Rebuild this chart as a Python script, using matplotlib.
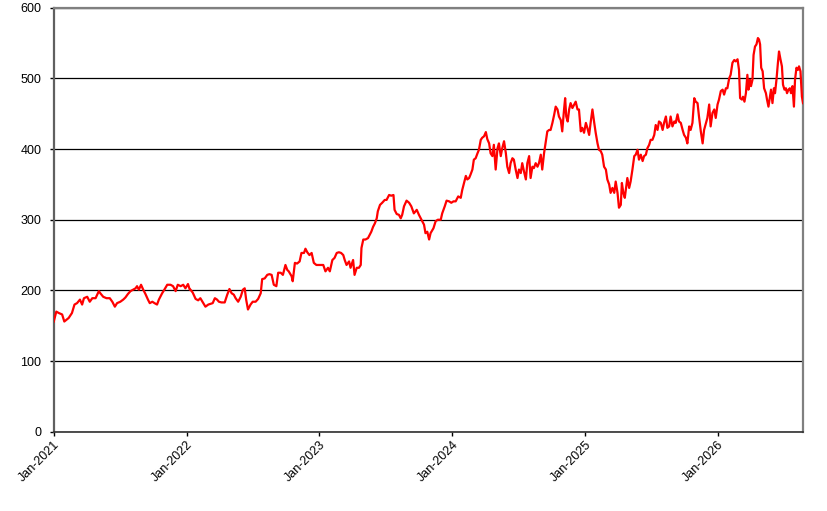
import pandas as pd
import matplotlib
matplotlib.use("Agg")
import matplotlib.pyplot as plt
import matplotlib.dates as mdates

# daily-ish closing values, offsets in days from start_date
start_date = "2021-01-01"

day_offsets = [
    0, 7, 14, 23, 29, 41, 50, 57, 64, 72, 78, 83, 92, 99, 106, 115, 124, 128, 136, 145,
    154, 161, 168, 174, 183, 191, 197, 204, 211, 218, 225, 229, 234, 240, 246, 252, 259, 264, 271, 277,
    284, 289, 298, 304, 312, 321, 328, 335, 341, 349, 356, 362, 369, 374,
    376, 382, 390, 397, 403, 410, 417, 425, 431, 437, 443, 449, 454, 461, 470, 477, 483, 489, 495, 500,
    507, 514, 520, 525, 529, 534, 541, 547, 555, 562, 569, 573, 580, 587, 593, 599, 605, 612, 617, 624,
    630, 637, 642, 646, 654, 657, 663, 669, 676, 681, 688, 692, 697, 703, 709, 715, 722, 729,
    741, 747, 754, 759, 766, 772, 778, 784, 790, 796, 800, 805, 812, 816, 823, 827, 833, 839, 844, 846,
    851, 857, 864, 869, 873, 878, 883, 888, 891, 897, 903, 910, 915, 922, 928, 934, 937, 943, 949, 954,
    958, 963, 970, 977, 983, 990, 998, 1004, 1011, 1018, 1022, 1027, 1032, 1036, 1044, 1050, 1056, 1064,
    1068, 1075, 1080, 1087, 1093, 1099,
    1105, 1112, 1119, 1123, 1128, 1133, 1137, 1142, 1146, 1151, 1155, 1160, 1165, 1169, 1174, 1178, 1183,
    1188, 1192, 1197, 1201, 1206, 1210, 1215, 1220, 1224, 1229, 1233, 1238, 1243, 1247, 1252, 1256, 1261,
    1265, 1270, 1275, 1279, 1284, 1288, 1293, 1298, 1302, 1307, 1311, 1316, 1320, 1325, 1330, 1334, 1339,
    1343, 1348, 1353, 1357, 1362, 1366, 1371, 1376, 1380, 1385, 1389, 1394, 1398, 1403, 1406, 1409, 1413,
    1417, 1421, 1426, 1431, 1435, 1440, 1444, 1449, 1453, 1458, 1463, 1467, 1472, 1476,
    1481, 1486, 1490, 1495, 1499, 1504, 1508, 1513, 1518, 1522, 1527, 1531, 1536, 1541, 1545, 1550, 1554,
    1559, 1562, 1566, 1570, 1574, 1577, 1582, 1586, 1591, 1596, 1600, 1605, 1609, 1614, 1619, 1623, 1628,
    1632, 1637, 1641, 1646, 1651, 1655, 1660, 1664, 1669, 1674, 1678, 1683, 1687, 1692, 1696, 1701, 1706,
    1710, 1715, 1719, 1724, 1729, 1733, 1738, 1742, 1747, 1751, 1756, 1761, 1765, 1770, 1774, 1779, 1784,
    1788,
    1797, 1802, 1806, 1811, 1816, 1820, 1825, 1829, 1834, 1839, 1843, 1848, 1852, 1857, 1861, 1866, 1871,
    1875, 1880, 1884, 1887, 1892, 1895, 1899, 1903, 1907, 1910, 1914, 1917, 1921, 1924, 1928, 1932, 1936,
    1939, 1942, 1945, 1949, 1953, 1958, 1961, 1965, 1969, 1972, 1976, 1980, 1983, 1987, 1991, 1994, 1998,
    2002, 2005, 2009, 2013, 2016, 2020, 2024, 2027, 2031, 2035, 2038, 2042, 2046, 2049, 2053, 2057, 2060,
]

prices = [
    156, 170, 168, 166, 156, 161, 168, 180, 182, 187, 180, 189, 191, 184, 189, 189, 199, 196, 191, 189,
    189, 184, 177, 182, 184, 187, 190, 195, 199, 201, 203, 206, 201, 208, 201, 195, 187, 182, 184, 182,
    180, 187, 196, 201, 208, 208, 206, 199, 208, 206, 208, 203, 209, 201,
    201, 197, 188, 186, 189, 183, 177, 180, 181, 182, 189, 187, 184, 183, 183, 194, 202, 196, 194, 189,
    184, 191, 201, 203, 187, 173, 180, 184, 184, 188, 196, 216, 217, 222, 223, 222, 208, 206, 225, 225,
    222, 236, 229, 227, 220, 213, 239, 238, 241, 253, 253, 259, 254, 250, 253, 239, 236, 236,
    236, 227, 232, 227, 243, 246, 253, 254, 253, 250, 243, 236, 241, 232, 243, 222, 232, 232, 236, 260,
    272, 272, 274, 279, 283, 290, 295, 302, 312, 321, 324, 328, 328, 335, 334, 335, 314, 308, 307, 302,
    307, 319, 327, 324, 319, 309, 314, 307, 300, 293, 281, 283, 272, 281, 288, 298, 300, 300,
    309, 319, 327, 326, 324, 326,
    326, 333, 331, 342, 352, 362, 357, 359, 364, 371, 385, 387, 394, 399, 413, 416, 418,
    424, 414, 408, 394, 390, 406, 371, 401, 408, 390, 401, 411, 394, 375, 366, 380, 387,
    385, 371, 359, 371, 366, 380, 368, 357, 380, 390, 359, 375, 373, 380, 375, 380, 392,
    371, 394, 411, 425, 427, 427, 437, 449, 460, 456, 446, 441, 425, 456, 472, 446, 439,
    456, 465, 458, 463, 467, 456, 456, 425, 430, 423, 437, 430, 420, 437,
    456, 437, 423, 408, 399, 397, 392, 375, 371, 357, 350, 338, 345, 338, 354, 338, 317,
    321, 352, 338, 331, 347, 359, 345, 354, 371, 390, 392, 399, 385, 392, 383, 390, 392,
    401, 406, 413, 413, 420, 434, 427, 439, 437, 427, 437, 446, 430, 432, 446, 432, 439,
    437, 449, 439, 437, 427, 420, 416, 408, 432, 427, 437, 472, 467, 465, 446, 425, 408,
    427,
    444, 463, 432, 451, 456, 444, 463, 470, 482, 484, 477, 486, 486, 500, 505, 522, 526,
    524, 527, 512, 472, 470, 474, 467, 479, 505, 484, 498, 489, 498, 533, 545, 548, 557,
    555, 548, 515, 510, 486, 479, 470, 460, 474, 484, 465, 486, 479, 498, 522, 538, 527,
    517, 491, 484, 486, 479, 484, 486, 479, 489, 460, 498, 515, 512, 517, 510, 474, 465,
]

y_ticks = [0, 100, 200, 300, 400, 500, 600]

dates = pd.Timestamp(start_date) + pd.to_timedelta(day_offsets, unit="D")

plt.rcParams["font.family"] = ["Liberation Sans", "DejaVu Sans"]

fig = plt.figure(figsize=(8.27, 5.11), dpi=100)
ax = fig.add_axes([0.065, 0.155, 0.906, 0.83])

ax.plot(dates, prices, color="#ff0000", lw=1.6, zorder=3)

ax.set_ylim(0, 600)
ax.set_yticks(y_ticks)
ax.set_xlim(dates[0], dates[-1])
ax.xaxis.set_major_locator(mdates.YearLocator())
ax.xaxis.set_major_formatter(mdates.DateFormatter("%b-%Y"))

ax.yaxis.grid(True, color="black", lw=0.9)
ax.set_axisbelow(True)

for side in ["top", "right"]:
    ax.spines[side].set_color("#808080")
    ax.spines[side].set_linewidth(1.6)
ax.spines["left"].set_color("#606060")
ax.spines["left"].set_linewidth(1.6)
ax.spines["bottom"].set_color("#303030")
ax.spines["bottom"].set_linewidth(1.2)

ax.tick_params(axis="y", direction="out", length=3, width=1, pad=6, labelsize=9)
ax.tick_params(axis="x", direction="out", length=3, width=1, pad=2, labelsize=9)
for lab in ax.get_xticklabels():
    lab.set_rotation(45)
    lab.set_ha("right")
    lab.set_va("top")
    lab.set_rotation_mode("anchor")

fig.savefig("out.png", dpi=100)
